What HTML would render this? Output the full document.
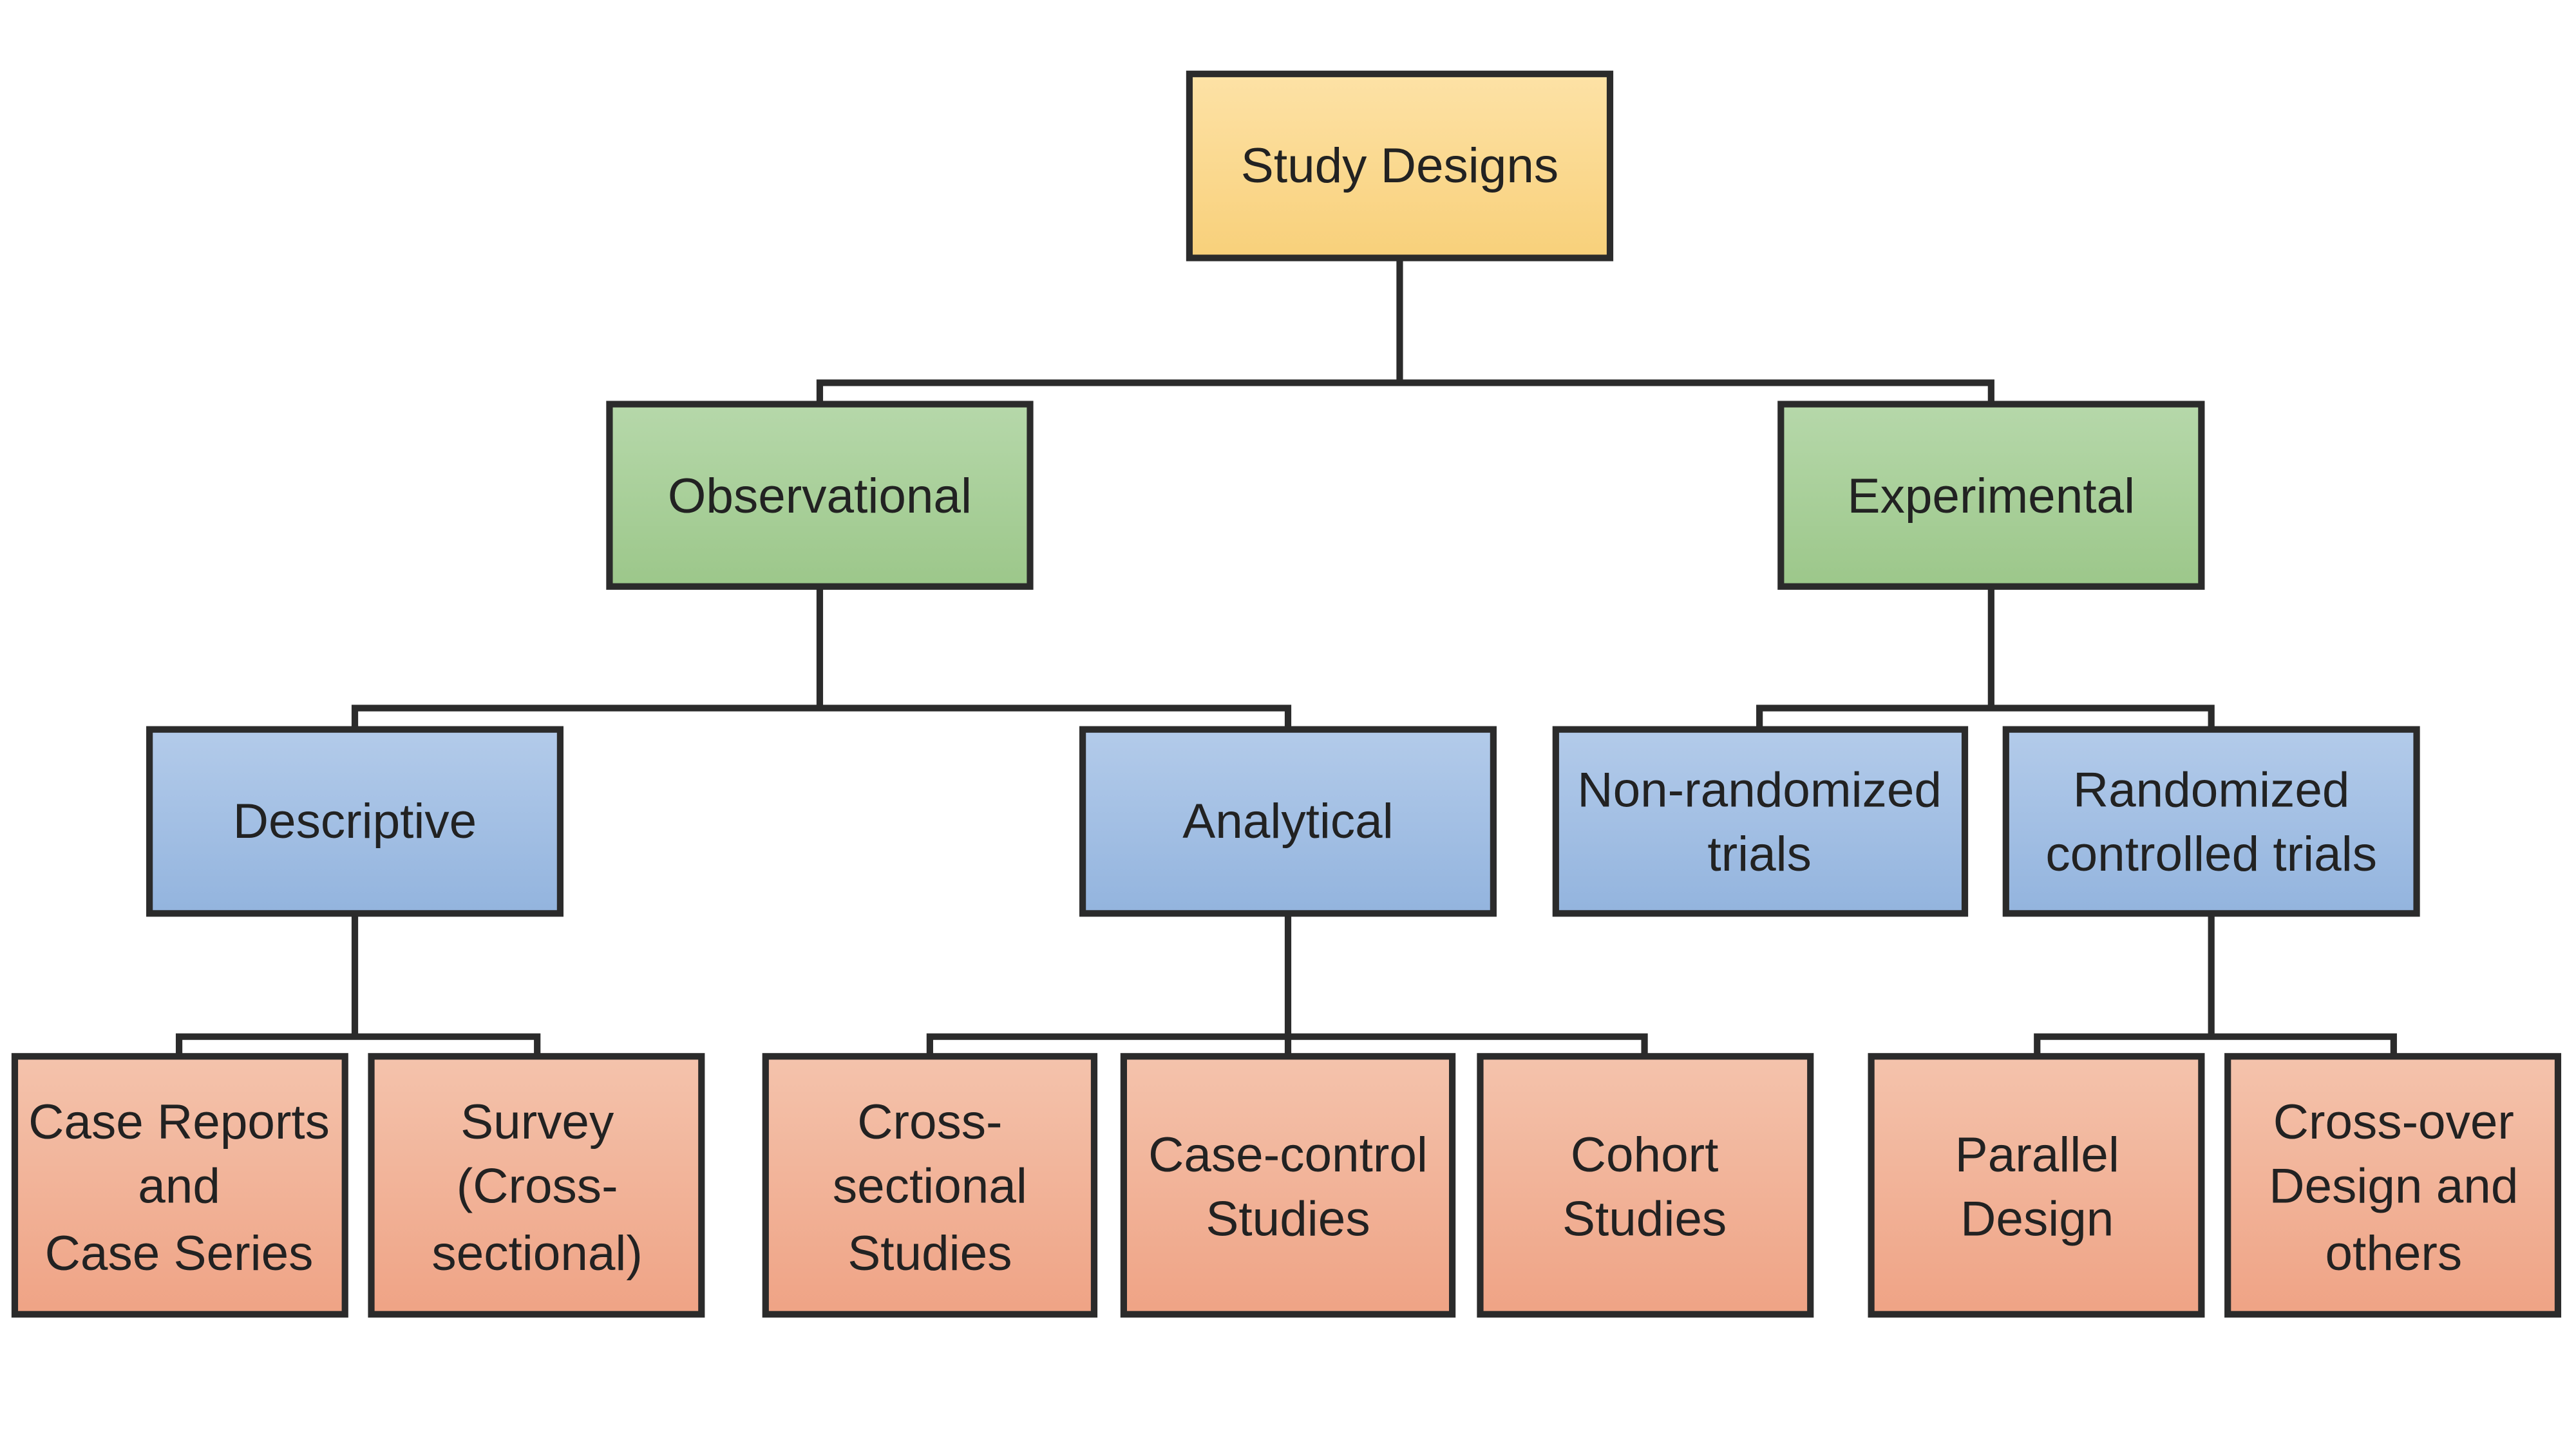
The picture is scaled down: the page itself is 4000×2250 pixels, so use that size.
<!DOCTYPE html>
<html><head><meta charset="utf-8"><style>
html,body{margin:0;padding:0;background:#fff;}
svg{display:block;}
text{font-family:"Liberation Sans",sans-serif;font-size:30px;fill:#222;text-anchor:middle;}
</style></head><body>
<svg width="4000" height="2250" viewBox="0 0 1568 882" xmlns="http://www.w3.org/2000/svg">
<defs>
<linearGradient id="y" x1="0" y1="0" x2="0" y2="1"><stop offset="0" stop-color="#fde2a6"/><stop offset="1" stop-color="#f8d07a"/></linearGradient>
<linearGradient id="g" x1="0" y1="0" x2="0" y2="1"><stop offset="0" stop-color="#b6d8aa"/><stop offset="1" stop-color="#9cc78a"/></linearGradient>
<linearGradient id="b" x1="0" y1="0" x2="0" y2="1"><stop offset="0" stop-color="#b3cbea"/><stop offset="1" stop-color="#93b4de"/></linearGradient>
<linearGradient id="r" x1="0" y1="0" x2="0" y2="1"><stop offset="0" stop-color="#f4c3ac"/><stop offset="1" stop-color="#efa385"/></linearGradient>
</defs>
<g fill="none" stroke="#2b2b2b" stroke-width="4">
<path d="M852 157V233M499 246V233H1212V246"/>
<path d="M499 357V431M216 444V431H784V444"/>
<path d="M1212 357V431M1071 444V431H1346V444"/>
<path d="M216 556V631M109 643V631H327V643"/>
<path d="M784 556V643M566 643V631H1001V643"/>
<path d="M1346 556V631M1240 643V631H1457V643"/>
</g>
<g stroke="#2b2b2b" stroke-width="4">
<rect x="724" y="45" width="256" height="112" fill="url(#y)"/>
<rect x="371" y="246" width="256" height="111" fill="url(#g)"/>
<rect x="1084" y="246" width="256" height="111" fill="url(#g)"/>
<rect x="91" y="444" width="250" height="112" fill="url(#b)"/>
<rect x="659" y="444" width="250" height="112" fill="url(#b)"/>
<rect x="947" y="444" width="249" height="112" fill="url(#b)"/>
<rect x="1221" y="444" width="250" height="112" fill="url(#b)"/>
<rect x="9" y="643" width="201" height="157" fill="url(#r)"/>
<rect x="226" y="643" width="201" height="157" fill="url(#r)"/>
<rect x="466" y="643" width="200" height="157" fill="url(#r)"/>
<rect x="684" y="643" width="200" height="157" fill="url(#r)"/>
<rect x="901" y="643" width="201" height="157" fill="url(#r)"/>
<rect x="1139" y="643" width="201" height="157" fill="url(#r)"/>
<rect x="1356" y="643" width="201" height="157" fill="url(#r)"/>
</g>
<text x="852" y="111">Study Designs</text>
<text x="499" y="312">Observational</text>
<text x="1212" y="312">Experimental</text>
<text x="216" y="510">Descriptive</text>
<text x="784" y="510">Analytical</text>
<text x="1071" y="491">Non-randomized</text><text x="1071" y="530">trials</text>
<text x="1346" y="491">Randomized</text><text x="1346" y="530">controlled trials</text>
<text x="109" y="693">Case Reports</text><text x="109" y="732">and</text><text x="109" y="773">Case Series</text>
<text x="327" y="693">Survey</text><text x="327" y="732">(Cross-</text><text x="327" y="773">sectional)</text>
<text x="566" y="693">Cross-</text><text x="566" y="732">sectional</text><text x="566" y="773">Studies</text>
<text x="784" y="713">Case-control</text><text x="784" y="752">Studies</text>
<text x="1001" y="713">Cohort</text><text x="1001" y="752">Studies</text>
<text x="1240" y="713">Parallel</text><text x="1240" y="752">Design</text>
<text x="1457" y="693">Cross-over</text><text x="1457" y="732">Design and</text><text x="1457" y="773">others</text>
</svg>
</body></html>
